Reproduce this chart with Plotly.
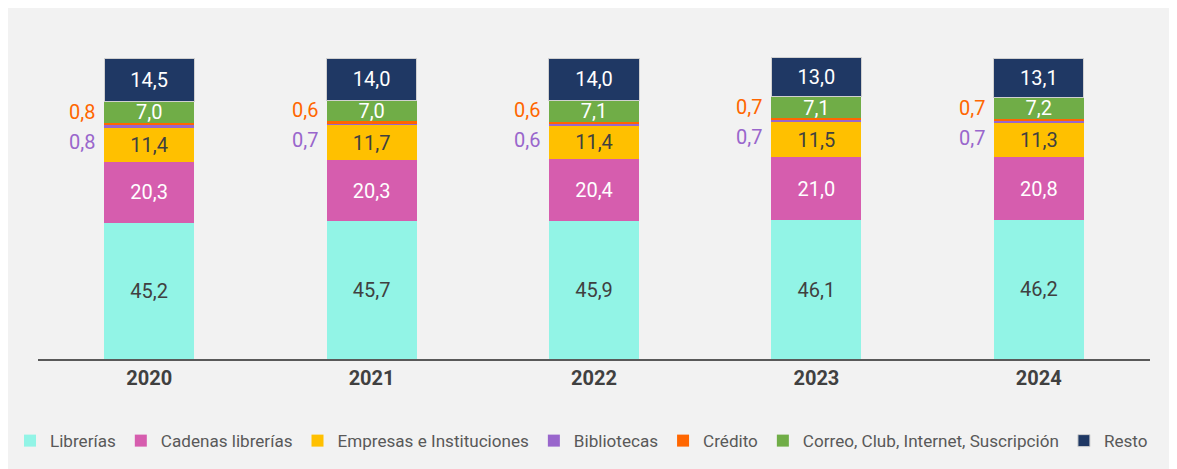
import plotly.graph_objects as go

years = ["2020", "2021", "2022", "2023", "2024"]
librerias = [45.2, 45.7, 45.9, 46.1, 46.2]
cadenas = [20.3, 20.3, 20.4, 21.0, 20.8]
empresas = [11.4, 11.7, 11.4, 11.5, 11.3]
bibliotecas = [0.8, 0.7, 0.6, 0.7, 0.7]
credito = [0.8, 0.6, 0.6, 0.7, 0.7]
correo = [7.0, 7.0, 7.1, 7.1, 7.2]
resto = [14.5, 14.0, 14.0, 13.0, 13.1]

series = [
    ("Librerías", librerias, "#92F4E6", "#404040", True),
    ("Cadenas librerías", cadenas, "#D65DAE", "#FFFFFF", True),
    ("Empresas e Instituciones", empresas, "#FFC000", "#404040", True),
    ("Bibliotecas", bibliotecas, "#9966CC", "#FFFFFF", False),
    ("Crédito", credito, "#FF6600", "#FFFFFF", False),
    ("Correo, Club, Internet, Suscripción", correo, "#70AD47", "#FFFFFF", True),
    ("Resto", resto, "#1F3864", "#FFFFFF", True),
]

def fmt(v):
    return f"{v:.1f}".replace(".", ",")

fig = go.Figure()
for name, vals, color, tcol, show in series:
    fig.add_trace(go.Bar(
        name=name, x=years, y=vals,
        marker=dict(color=color,
                    line=dict(color="#D0D0D0" if name == "Resto" else color,
                              width=1 if name == "Resto" else 0)),
        text=[fmt(v) for v in vals] if show else None,
        textposition="inside" if show else "none",
        insidetextanchor="middle",
        textangle=0,
        constraintext="none",
        textfont=dict(family="Roboto", size=20, color=tcol),
        hoverinfo="skip",
    ))

annotations = []
for i, y in enumerate(years):
    base = librerias[i] + cadenas[i] + empresas[i]
    bib_c = base + bibliotecas[i] / 2
    cred_c = base + bibliotecas[i] + credito[i] / 2
    annotations.append(dict(x=i, y=cred_c, xref="x", yref="y", text=fmt(credito[i]),
                            showarrow=False, xanchor="right", yanchor="middle",
                            xshift=-52, yshift=12,
                            font=dict(family="Roboto", size=20, color="#FF6600")))
    annotations.append(dict(x=i, y=bib_c, xref="x", yref="y", text=fmt(bibliotecas[i]),
                            showarrow=False, xanchor="right", yanchor="middle",
                            xshift=-52, yshift=-16,
                            font=dict(family="Roboto", size=20, color="#9966CC")))

# the page body adds an 8px offset, so figure coordinates are page coords - 8
W, H = 1177, 469
ml, mr, mt, mb = 30, 0, 12, 118
pw, ph = W - ml - mr, H - mt - mb
axis_right = 1142
axis_y = H - mb

fig.update_layout(
    width=W, height=H,
    margin=dict(l=ml, r=mr, t=mt, b=mb),
    barmode="stack",
    bargap=0.595,
    paper_bgcolor="#F2F2F2",
    plot_bgcolor="rgba(0,0,0,0)",
    font=dict(family="Roboto", color="#595959"),
    showlegend=True,
    legend=dict(orientation="h", x=(2 - ml) / pw, xanchor="left", y=(axis_y - 433) / ph,
                yanchor="middle",
                font=dict(family="Roboto", size=17.1, color="#595959"),
                traceorder="normal", itemwidth=30, bgcolor="rgba(0,0,0,0)"),
    xaxis=dict(type="category", domain=[0, (axis_right - ml) / pw],
               range=[-0.5, len(years) - 0.5],
               showline=True, linecolor="#595959", linewidth=2,
               ticks="", ticklen=0,
               tickfont=dict(family="Roboto", size=20, color="#404040", weight="bold"),
               showgrid=False, fixedrange=True),
    yaxis=dict(visible=False, range=[0, ph / 3.01], showgrid=False, fixedrange=True),
    annotations=annotations,
)

fig.write_html("out.html")
